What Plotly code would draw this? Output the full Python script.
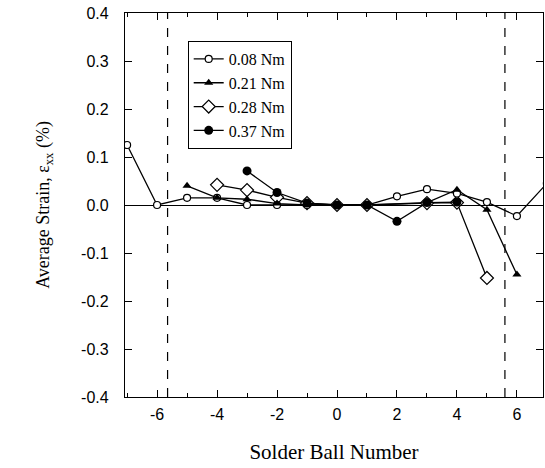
import plotly.graph_objects as go

# Data
x_008 = [-7, -6, -5, -4, -3, -2, -1, 0, 1, 2, 3, 4, 5, 6, 7]
y_008 = [0.125, 0.0, 0.015, 0.015, 0.0, 0.0, 0.0, 0.0, 0.0, 0.018, 0.033, 0.024, 0.006, -0.023, 0.045]

x_021 = [-5, -4, -3, -2, -1, 0, 1, 3, 4, 5, 6]
y_021 = [0.040, 0.015, 0.012, 0.003, 0.0, 0.0, 0.0, 0.005, 0.032, -0.010, -0.145]

x_028 = [-4, -3, -2, -1, 0, 1, 3, 4, 5]
y_028 = [0.042, 0.031, 0.016, 0.004, 0.0, 0.0, 0.004, 0.005, -0.152]

x_037 = [-3, -2, -1, 0, 1, 2, 3, 4]
y_037 = [0.071, 0.026, 0.004, 0.0, 0.0, -0.034, 0.005, 0.006]

series_names = ["0.08 Nm", "0.21 Nm", "0.28 Nm", "0.37 Nm"]
boundary_x = [-5.65, 5.6]

x_tick_vals = [-6, -4, -2, 0, 2, 4, 6]
x_tick_text = ["-6", "-4", "-2", "0", "2", "4", "6"]
y_tick_vals = [-0.4, -0.3, -0.2, -0.1, 0.0, 0.1, 0.2, 0.3, 0.4]
y_tick_text = ["-0.4", "-0.3", "-0.2", "-0.1", "0.0", "0.1", "0.2", "0.3", "0.4"]

fig = go.Figure()

line_style = dict(color="black", width=1.3)
diamond_marker = dict(symbol="diamond", size=10, color="white", line=dict(color="black", width=1.2))

fig.add_trace(go.Scatter(
    x=x_028, y=y_028, name=series_names[2], mode="lines+markers",
    line=line_style, marker=diamond_marker,
    showlegend=False, legendgroup="g028",
))
fig.add_trace(go.Scatter(
    x=x_008, y=y_008, name=series_names[0], mode="lines+markers",
    line=line_style,
    marker=dict(symbol="circle", size=7, color="white", line=dict(color="black", width=1.2)),
))
fig.add_trace(go.Scatter(
    x=x_021, y=y_021, name=series_names[1], mode="lines+markers",
    line=line_style,
    marker=dict(symbol="triangle-up", size=8, color="black"),
))
fig.add_trace(go.Scatter(
    x=[None], y=[None], name=series_names[2], mode="lines+markers",
    line=line_style, legendgroup="g028", marker=diamond_marker,
))
fig.add_trace(go.Scatter(
    x=x_037, y=y_037, name=series_names[3], mode="lines+markers",
    line=line_style,
    marker=dict(symbol="circle", size=9, color="black"),
))

for bx in boundary_x:
    fig.add_shape(type="line", xref="x", yref="paper", x0=bx, x1=bx, y0=0, y1=1,
                  line=dict(color="black", width=1.2, dash="dash"), layer="below")

tick_font = dict(family="Liberation Sans, Arial, sans-serif", size=16, color="black")
title_font = dict(family="Liberation Serif, Times New Roman, serif", size=18, color="black")

fig.update_layout(
    width=545, height=468,
    margin=dict(l=125, r=2, t=13, b=71),
    paper_bgcolor="white", plot_bgcolor="white",
    showlegend=True,
    legend=dict(
        x=0.15, y=0.927, xanchor="left", yanchor="top",
        bgcolor="white", bordercolor="black", borderwidth=1,
        font=dict(family="Liberation Serif, Times New Roman, serif", size=16, color="black"),
        tracegroupgap=0, traceorder="normal",
    ),
)

fig.update_xaxes(
    range=[-7.07, 6.87], tickmode="array", tickvals=x_tick_vals, ticktext=x_tick_text,
    ticks="inside", ticklen=7, tickwidth=1, tickcolor="black",
    minor=dict(tickmode="linear", dtick=1, ticks="inside", ticklen=4, tickcolor="black"),
    showline=True, linecolor="black", linewidth=1.2, mirror="ticks",
    showgrid=False, zeroline=False, tickfont=tick_font, ticklabelstandoff=3,
    title=dict(text="Solder Ball Number", font=dict(family="Liberation Serif, Times New Roman, serif", size=21, color="black"), standoff=22),
)
fig.update_yaxes(
    range=[-0.4, 0.4], tickmode="array", tickvals=y_tick_vals, ticktext=y_tick_text,
    ticks="inside", ticklen=7, tickwidth=1, tickcolor="black",
    showline=True, linecolor="black", linewidth=1.2, mirror="ticks",
    showgrid=False, zeroline=True, zerolinecolor="black", zerolinewidth=1.2,
    tickfont=tick_font, ticklabelstandoff=12,
    title=dict(text="Average Strain, ε<sub>xx</sub> (%)", font=title_font, standoff=26),
)

fig.write_html("out.html")
